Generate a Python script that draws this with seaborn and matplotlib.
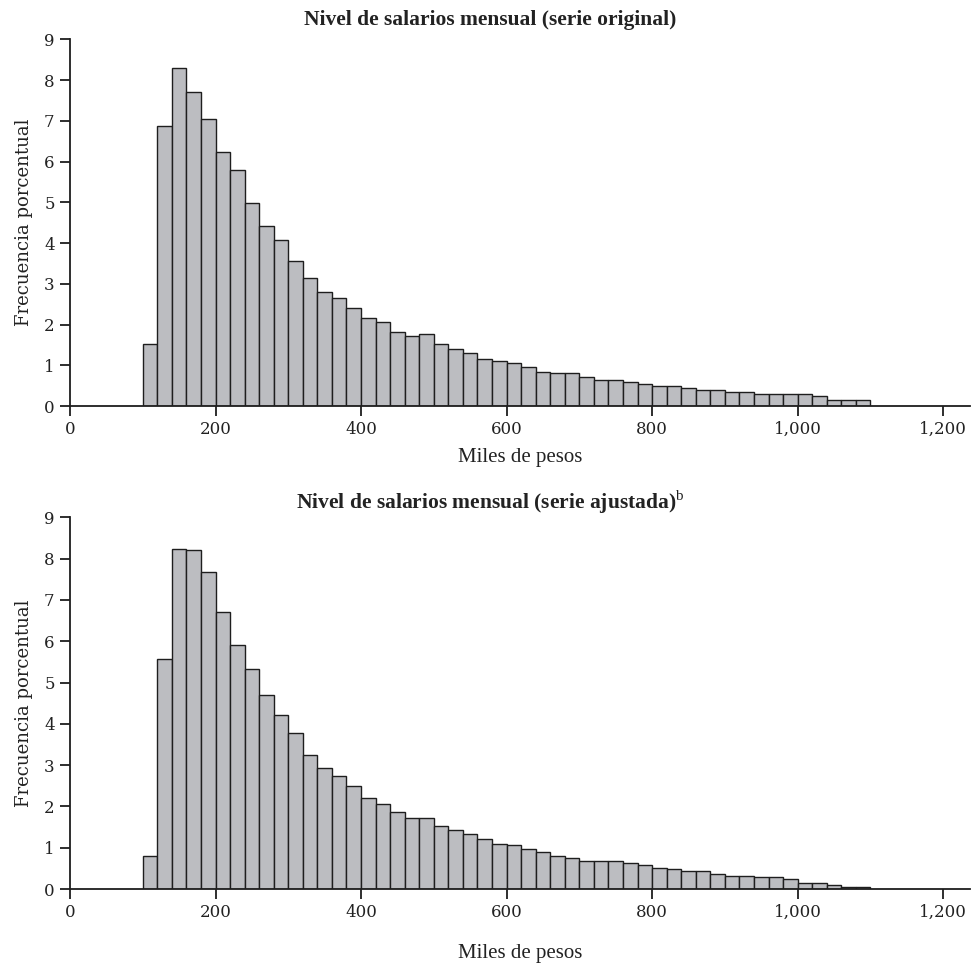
import numpy as np
import pandas as pd
import matplotlib
matplotlib.use("Agg")
import matplotlib.pyplot as plt
import seaborn as sns

# ---- data (percent frequency per 20-thousand-peso bin, 100..1100) ----
bin_starts = list(range(100, 1100, 20))
original = [1.52, 6.88, 8.30, 7.70, 7.04, 6.23, 5.78, 4.97, 4.42, 4.07,
            3.57, 3.15, 2.81, 2.66, 2.41, 2.16, 2.07, 1.81, 1.71, 1.76,
            1.52, 1.40, 1.30, 1.16, 1.10, 1.05, 0.95, 0.84, 0.80, 0.80,
            0.70, 0.65, 0.65, 0.60, 0.55, 0.50, 0.50, 0.45, 0.40, 0.40,
            0.35, 0.35, 0.30, 0.30, 0.30, 0.30, 0.25, 0.155, 0.155, 0.155]
ajustada = [0.81, 5.56, 8.24, 8.20, 7.67, 6.71, 5.90, 5.32, 4.70, 4.21,
            3.78, 3.25, 2.92, 2.73, 2.49, 2.20, 2.06, 1.87, 1.72, 1.72,
            1.53, 1.43, 1.33, 1.20, 1.10, 1.06, 0.96, 0.90, 0.81, 0.76,
            0.67, 0.67, 0.67, 0.62, 0.57, 0.52, 0.48, 0.43, 0.43, 0.37,
            0.32, 0.32, 0.28, 0.28, 0.24, 0.15, 0.15, 0.10, 0.05, 0.05]
bin_width = 20
xticks = [0, 200, 400, 600, 800, 1000, 1200]
xtick_labels = ["0", "200", "400", "600", "800", "1,000", "1,200"]
yticks = list(range(0, 10))
titles = ["Nivel de salarios mensual (serie original)",
          "Nivel de salarios mensual (serie ajustada)$^{\\mathrm{b}}$"]
xlabel = "Miles de pesos"
ylabel = "Frecuencia porcentual"

sns.set_theme(style="white")
plt.rcParams["font.family"] = ["Liberation Serif", "DejaVu Serif"]
plt.rcParams["mathtext.fontset"] = "custom"
plt.rcParams["mathtext.rm"] = "Liberation Serif"
plt.rcParams["mathtext.bf"] = "Liberation Serif:bold"

fig = plt.figure(figsize=(9.72, 9.63), dpi=100)
ax_pos = [[0.072, 0.5784, 0.926, 0.3808],
          [0.072, 0.0768, 0.926, 0.3860]]

series = [original, ajustada]
ink = "#1e1e1e"
txt = "#222222"
century = ["DejaVu Serif"]

for i, (vals, title) in enumerate(zip(series, titles)):
    ax = fig.add_axes(ax_pos[i])
    df = pd.DataFrame({"x": [b + bin_width / 2 for b in bin_starts], "w": vals})
    sns.histplot(data=df, x="x", weights="w", binwidth=bin_width,
                 binrange=(bin_starts[0], bin_starts[-1] + bin_width), ax=ax,
                 color="#bcbdc1", alpha=1.0, edgecolor=ink, linewidth=1.0)
    ax.set_xlim(0, 1237)
    ax.set_ylim(0, 9)
    ax.set_xticks(xticks)
    ax.set_xticklabels(xtick_labels)
    ax.set_yticks(yticks)
    for lab in ax.get_xticklabels() + ax.get_yticklabels():
        lab.set_family(century)
    for s in ["top", "right"]:
        ax.spines[s].set_visible(False)
    for s in ["left", "bottom"]:
        ax.spines[s].set_color(ink)
        ax.spines[s].set_linewidth(1.3)
    ax.tick_params(axis="both", direction="out", length=7, width=1.3,
                   color=ink, labelsize=12, labelcolor=txt, pad=4,
                   bottom=True, left=True)
    ax.set_xlabel(xlabel, fontsize=15, color=txt,
                  labelpad=7 if i == 0 else 16)
    ax.set_ylabel(ylabel, fontsize=13, color=txt, labelpad=8,
                  family=century)
    ax.grid(False)
    ax.set_title(title, fontsize=15.5, fontweight="bold", color=txt,
                 pad=10 if i == 0 else 6, x=0.467)

fig.savefig("out.png", dpi=100)
